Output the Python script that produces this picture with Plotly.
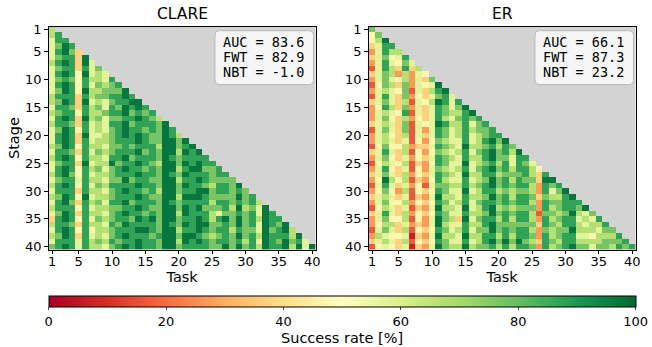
import numpy as np
import plotly.graph_objects as go

TASKS = list(range(1, 41))
STAGES = list(range(1, 41))
TICKS = [1, 5, 10, 15, 20, 25, 30, 35, 40]
CBAR_TICKS = [0, 20, 40, 60, 80, 100]
PANEL_TITLES = ["CLARE", "ER"]
STATS = {
    "CLARE": [("AUC", "83.6"), ("FWT", "82.9"), ("NBT", "-1.0")],
    "ER": [("AUC", "66.1"), ("FWT", "87.3"), ("NBT", "23.2")],
}

# *_TOP: stages 1..20 (tasks 1..stage); *_LEFT: stages 21..40, tasks 1..20;
# *_RIGHT: tasks 21..40, each string lists stages task..40.
CLARE_TOP = [
    "6", "68", "588", "5798", "58973", "578839", "6898395", "57883857",
    "589849565", "5787486658", "58984857678", "579849667779", "6888386778898",
    "67983956578899", "588738675879898", "6788486678897878",
    "58983967577889876", "688738565889788879", "5798485657898878798",
    "58983955678989877986",
]
CLARE_LEFT = [
    "58983856678889877997", "67984866577878886997", "58873857678889787996",
    "68984866588978887987", "57883956697889876997", "58984867578988787996",
    "68974856678889887987", "57885866577978877996", "68984857688889887997",
    "58883866578988786997", "67984956678889877996", "58973867588978887987",
    "68884856677889877997", "57983866578988787996", "38984857678879897997",
    "68873866587988887987", "58984846678889987996", "67983856578988878997",
    "58885867687889887996", "78985866578989887997",
]
CLARE_RIGHT = [
    "98989898989899898998", "9888988889888888988", "989989899898999898",
    "88788798878898788", "8777677676677677", "887887875878787",
    "87887887988889", "7777767776777", "989898998989", "77767777767",
    "8878887888", "655655656", "99999999", "8887888", "878878", "99899",
    "6676", "989", "55", "9",
]
ER_TOP = [
    "7", "47", "469", "3588", "25866", "357458", "2585475", "15863836",
    "357626254", "2575462537", "14763725459", "256547153689", "1585372435785",
    "35753615469858", "248637253587579", "2565481535876689",
    "25743624358657878", "356537154598668578", "1575371525875686778",
    "25643615358756856788",
]
ER_LEFT = [
    "25653514247655856897", "14744623358765966786", "35853614247656857897",
    "25743524358765866897", "14654613248755956786", "25843514257656857897",
    "35753624358765966886", "24964613248655856797", "15853524157766867897",
    "24742614348755956886", "35653513259665866797", "25744624348756857887",
    "14653513259665956896", "35853624348755866797", "25744614259763957886",
    "24663523259655866897", "15753614348756857797", "26544503259665966886",
    "35653614348755856897", "14543503259766967786",
]
ER_RIGHT = [
    "98878878878878878898", "7655676766767677676", "988878878878878898",
    "87887878878878878", "5667667676676767", "433223221232232",
    "89887887887888", "9756767676676", "876776767767", "98887887888",
    "9889889889", "876566567", "95656567", "7566465", "865667", "87677",
    "7676", "878", "87", "8",
]


def build(top, left, right):
    z = np.full((40, 40), np.nan)
    for i, s in enumerate(top):
        assert len(s) == i + 1, (i, s)
        for j, ch in enumerate(s):
            z[i, j] = int(ch) * 10 + 7
    for k, s in enumerate(left):
        assert len(s) == 20, (k, s)
        for j, ch in enumerate(s):
            z[20 + k, j] = int(ch) * 10 + 7
    for k, s in enumerate(right):
        c = 20 + k
        assert len(s) == 40 - c, (c, s)
        for t, ch in enumerate(s):
            z[c + t, c] = int(ch) * 10 + 7
    return z


Z = {
    "CLARE": build(CLARE_TOP, CLARE_LEFT, CLARE_RIGHT),
    "ER": build(ER_TOP, ER_LEFT, ER_RIGHT),
}

W, H = 652, 347
FONT = "DejaVu Sans"
MONO = "DejaVu Sans Mono"
PANEL_PX = [(48.7, 315.5), (368.7, 635.5)]
TOP_PX, BOT_PX = 26.7, 249.5


def PX(x):
    return x / W


def PY(y):
    return 1 - y / H


xdom = [[PX(a), PX(b)] for a, b in PANEL_PX]
ydom = [PY(BOT_PX), PY(TOP_PX)]

fig = go.Figure()
for idx, name in enumerate(PANEL_TITLES):
    sfx = "" if idx == 0 else str(idx + 1)
    fig.add_trace(go.Heatmap(
        z=Z[name], x=TASKS, y=STAGES, coloraxis="coloraxis",
        xaxis="x" + sfx, yaxis="y" + sfx, hoverongaps=False,
    ))

axis_common = dict(
    tickvals=TICKS, ticks="outside", ticklen=3.5, tickwidth=1, tickcolor="black",
    showline=True, mirror=True, linecolor="black", linewidth=1,
    showgrid=False, zeroline=False, tickfont=dict(size=13, color="black"),
    automargin=False,
)
layout = dict(
    width=W, height=H, margin=dict(l=0, r=0, t=0, b=0, autoexpand=False),
    paper_bgcolor="white", plot_bgcolor="#d3d3d3",
    font=dict(family=FONT, color="black"),
    showlegend=False,
    coloraxis=dict(
        colorscale="RdYlGn", cmin=0, cmax=100,
        colorbar=dict(
            orientation="h", x=PX((48.7 + 635.5) / 2), xanchor="center",
            y=PY(295.5), yanchor="top", len=(635.5 - 48.7) / W, lenmode="fraction",
            thickness=11, thicknessmode="pixels", outlinewidth=1,
            outlinecolor="black", tickvals=CBAR_TICKS, ticks="outside",
            ticklen=3, tickfont=dict(size=13, color="black"), xpad=0, ypad=0,
        ),
    ),
)
for idx in range(2):
    sfx = "" if idx == 0 else str(idx + 1)
    layout["xaxis" + sfx] = dict(
        axis_common, domain=xdom[idx], range=[0.5, 40.5], anchor="y" + sfx,
        ticklabelstandoff=-4,
        title=dict(text="Task", font=dict(size=14.5), standoff=0),
    )
    ydict = dict(axis_common, domain=ydom, range=[40.5, 0.5], anchor="x" + sfx)
    if idx == 0:
        ydict["title"] = dict(text="Stage", font=dict(size=14.5), standoff=1)
    layout["yaxis" + sfx] = ydict
fig.update_layout(**layout)


def rounded_box(x0, y0, x1, y1, r):
    pts = [
        f"M {PX(x0 + r)},{PY(y0)}", f"L {PX(x1 - r)},{PY(y0)}",
        f"Q {PX(x1)},{PY(y0)} {PX(x1)},{PY(y0 + r)}", f"L {PX(x1)},{PY(y1 - r)}",
        f"Q {PX(x1)},{PY(y1)} {PX(x1 - r)},{PY(y1)}", f"L {PX(x0 + r)},{PY(y1)}",
        f"Q {PX(x0)},{PY(y1)} {PX(x0)},{PY(y1 - r)}", f"L {PX(x0)},{PY(y0 + r)}",
        f"Q {PX(x0)},{PY(y0)} {PX(x0 + r)},{PY(y0)}", "Z",
    ]
    return " ".join(pts)


for idx, name in enumerate(PANEL_TITLES):
    left, right = PANEL_PX[idx]
    fig.add_annotation(
        text=name, xref="paper", yref="paper",
        x=PX((left + right) / 2), y=PY(14),
        xanchor="center", yanchor="middle", showarrow=False,
        font=dict(size=15.5, family=FONT, color="black"),
    )
    bx1 = right - 2.0
    bx0 = bx1 - 98.5
    fig.add_shape(
        type="path", xref="paper", yref="paper",
        path=rounded_box(bx0, 30.7, bx1, 84.5, 4),
        fillcolor="rgba(255,255,255,0.8)", line=dict(color="#b8b8b8", width=1),
        layer="above",
    )
    for li, (k, v) in enumerate(STATS[name]):
        fig.add_annotation(
            text=f"{k} = {v}", xref="paper", yref="paper",
            x=PX(bx0 + 5.5), y=PY(42.0 + 15.0 * li), xanchor="left",
            yanchor="middle", showarrow=False, align="left",
            font=dict(size=13.5, family=MONO, color="black"),
        )

fig.add_annotation(
    text="Success rate [%]", xref="paper", yref="paper",
    x=PX((48.7 + 635.5) / 2), y=PY(337.5), xanchor="center", yanchor="middle",
    showarrow=False, font=dict(size=14.5, family=FONT, color="black"),
)

fig.write_html(
    "out.html",
    config={"displayModeBar": False},
    post_script="document.body.style.margin='0';document.body.style.padding='0';",
)
